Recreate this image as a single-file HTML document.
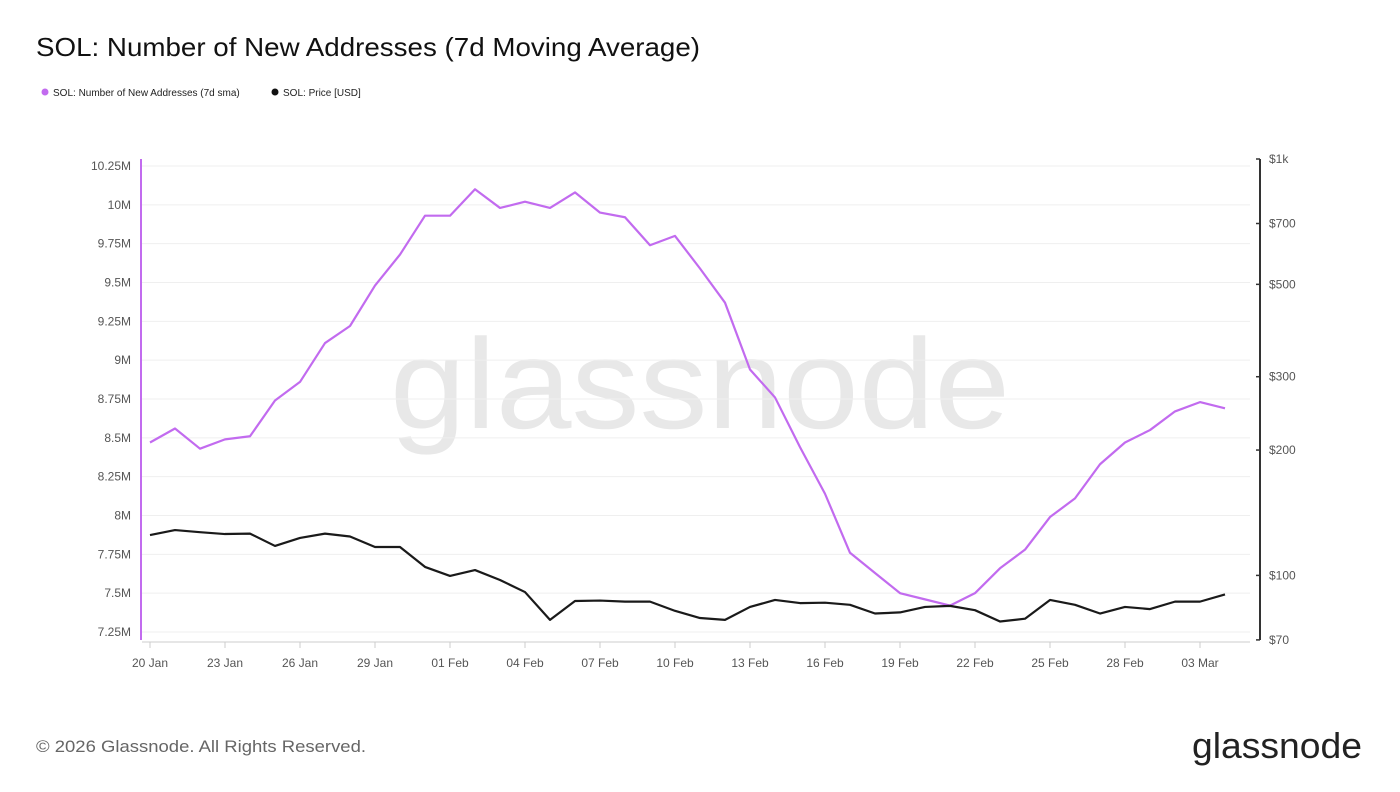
<!DOCTYPE html>
<html><head><meta charset="utf-8"><style>
body{margin:0;background:#fff;font-family:"Liberation Sans",sans-serif;}
svg text{font-family:"Liberation Sans",sans-serif;}
</style></head><body>
<svg width="1400" height="787" viewBox="0 0 1400 787" xmlns="http://www.w3.org/2000/svg">
<text x="36" y="56" font-size="26" fill="#111" textLength="664" lengthAdjust="spacingAndGlyphs">SOL: Number of New Addresses (7d Moving Average)</text>
<g>
<circle cx="45" cy="92" r="3.5" fill="#c26bef"/>
<text x="53" y="96" font-size="10" fill="#222">SOL: Number of New Addresses (7d sma)</text>
<circle cx="275" cy="92" r="3.5" fill="#111"/>
<text x="283" y="96" font-size="10" fill="#222">SOL: Price [USD]</text>
</g>
<text x="700" y="428" font-size="128" fill="#e8e8e8" text-anchor="middle" textLength="620" lengthAdjust="spacingAndGlyphs">glassnode</text>
<g id="grid"></g>
<g id="axes"></g>
<g id="series"></g>
<text x="36" y="752" font-size="17" fill="#666" textLength="330" lengthAdjust="spacingAndGlyphs">© 2026 Glassnode. All Rights Reserved.</text>
<text x="1362" y="758" font-size="36" fill="#222" text-anchor="end" textLength="170" lengthAdjust="spacingAndGlyphs">glassnode</text>
</svg>
<script>
const dateLabels=["20 Jan","23 Jan","26 Jan","29 Jan","01 Feb","04 Feb","07 Feb","10 Feb","13 Feb","16 Feb","19 Feb","22 Feb","25 Feb","28 Feb","03 Mar"];
const leftTicks=[7.25,7.5,7.75,8,8.25,8.5,8.75,9,9.25,9.5,9.75,10,10.25];
const leftTickLabels=["7.25M","7.5M","7.75M","8M","8.25M","8.5M","8.75M","9M","9.25M","9.5M","9.75M","10M","10.25M"];
const rightTicks=[70,100,200,300,500,700,1000];
const rightTickLabels=["$70","$100","$200","$300","$500","$700","$1k"];
const addresses=[8.47,8.56,8.43,8.49,8.51,8.74,8.86,9.11,9.22,9.48,9.68,9.93,9.93,10.10,9.98,10.02,9.98,10.08,9.95,9.92,9.74,9.80,9.59,9.37,8.94,8.76,8.44,8.14,7.76,7.63,7.50,7.46,7.42,7.50,7.66,7.78,7.99,8.11,8.33,8.47,8.55,8.67,8.73,8.69];
const price=[125,128.5,127,125.7,126,117.7,123,126,124,117,117,104.8,99.7,103,97.5,91.2,78.2,86.8,87,86.5,86.5,82.2,79,78.2,84,87.3,85.8,86,85,81,81.5,84,84.5,82.5,77.5,78.7,87.3,85,81,84,83,86.5,86.5,90];
const NS="http://www.w3.org/2000/svg";
const x=i=>150+25*i;
const yL=v=>166+(10.25-v)*155.33;
const yR=p=>159+(3-Math.log10(p))*416.4;
function mk(tag,attrs,parent,txt){const e=document.createElementNS(NS,tag);for(const k in attrs)e.setAttribute(k,attrs[k]);if(txt!==undefined)e.textContent=txt;document.getElementById(parent).appendChild(e);return e;}
leftTicks.forEach((v,i)=>{
  const g=mk("line",{x1:142,x2:1250,y1:yL(v),y2:yL(v),stroke:"#efefef","stroke-width":1},"grid");
  
  
  const t=mk("text",{x:131,y:yL(v)+4,"font-size":12,fill:"#555","text-anchor":"end"},"axes",leftTickLabels[i]);
  
  
});
const la=mk("line",{x1:141,x2:141,y1:159,y2:640,stroke:"#c26bef","stroke-width":2},"axes");


const ra=mk("line",{x1:1260,x2:1260,y1:159,y2:640,stroke:"#333","stroke-width":2},"axes");


rightTicks.forEach((p,i)=>{
  const tk=mk("line",{x1:1256,x2:1260,y1:yR(p),y2:yR(p),stroke:"#333","stroke-width":1.5},"axes");
  
  
  const t=mk("text",{x:1269,y:yR(p)+4,"font-size":12,fill:"#555"},"axes",rightTickLabels[i]);
  
  
});
const xa=mk("line",{x1:142,x2:1250,y1:642,y2:642,stroke:"#ccc","stroke-width":1},"axes");


dateLabels.forEach((d,i)=>{
  const tk=mk("line",{x1:x(i*3),x2:x(i*3),y1:642,y2:648,stroke:"#ccc","stroke-width":1},"axes");
  
  
  const t=mk("text",{x:x(i*3),y:667,"font-size":12,fill:"#555","text-anchor":"middle"},"axes",d);
  
  
});
const pa=mk("polyline",{points:addresses.map((v,i)=>x(i)+","+yL(v)).join(" "),fill:"none",stroke:"#c26bef","stroke-width":2.2,"stroke-linejoin":"round"},"series");


const pp=mk("polyline",{points:price.map((v,i)=>x(i)+","+yR(v)).join(" "),fill:"none",stroke:"#1a1a1a","stroke-width":2.2,"stroke-linejoin":"round"},"series");


</script>
</body></html>
